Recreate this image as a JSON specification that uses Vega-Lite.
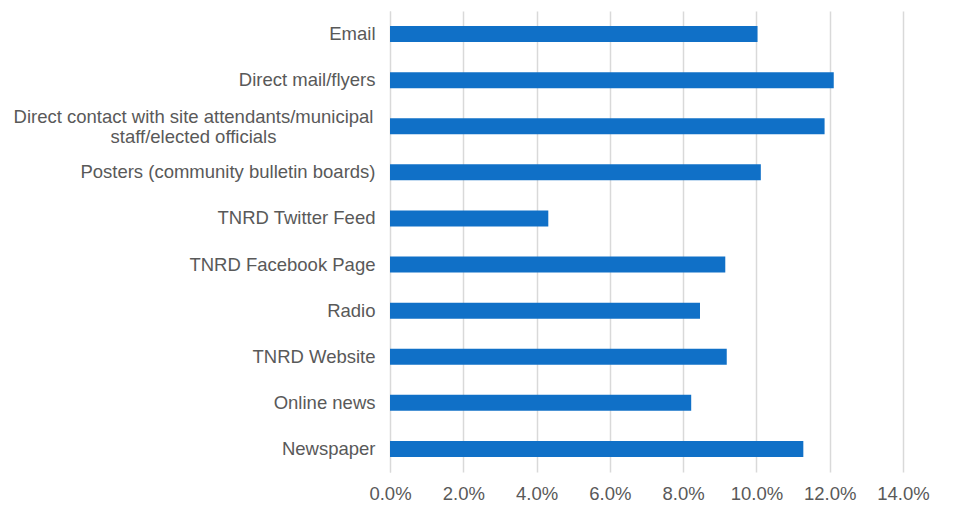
{
  "$schema": "https://vega.github.io/schema/vega-lite/v6.json",
  "autosize": {"type": "none"},
  "padding": {"left": 390, "top": 11, "right": 53, "bottom": 34},
  "width": 513,
  "height": 461,
  "background": "white",
  "data": {
    "values": [
      {"channel": "Email", "share": 0.1003},
      {"channel": "Direct mail/flyers", "share": 0.1211},
      {"channel": "Direct contact with site attendants/municipal staff/elected officials", "share": 0.1186},
      {"channel": "Posters (community bulletin boards)", "share": 0.1012},
      {"channel": "TNRD Twitter Feed", "share": 0.0432},
      {"channel": "TNRD Facebook Page", "share": 0.0915},
      {"channel": "Radio", "share": 0.0846},
      {"channel": "TNRD Website", "share": 0.0919},
      {"channel": "Online news", "share": 0.0822},
      {"channel": "Newspaper", "share": 0.1128}
    ]
  },
  "mark": {"type": "bar", "color": "#1070C7"},
  "encoding": {
    "y": {
      "field": "channel",
      "type": "nominal",
      "sort": null,
      "title": null,
      "scale": {"paddingInner": 0.653, "paddingOuter": 0.3265},
      "axis": {
        "ticks": false,
        "domain": true,
        "domainColor": "#d9d9d9",
        "grid": false,
        "labelFont": "Liberation Sans",
        "labelFontSize": 18.5,
        "labelColor": "#595959",
        "labelLimit": 400,
        "labelLineHeight": 20,
        "labelAlign": {"condition": {"test": "indexof(datum.value, 'Direct contact') == 0", "value": "center"}, "value": "right"},
        "labelPadding": {"condition": {"test": "indexof(datum.value, 'Direct contact') == 0", "value": 197}, "value": 15},
        "labelOffset": {"condition": {"test": "indexof(datum.value, 'Direct contact') == 0", "value": -9}, "value": 0},
        "labelExpr": "indexof(datum.value, 'Direct contact') == 0 ? ['Direct contact with site attendants/municipal', 'staff/elected officials'] : datum.value"
      }
    },
    "x": {
      "field": "share",
      "type": "quantitative",
      "title": null,
      "scale": {"domain": [0, 0.14]},
      "axis": {
        "format": ".1%",
        "values": [0, 0.02, 0.04, 0.06, 0.08, 0.1, 0.12, 0.14],
        "ticks": false,
        "domain": false,
        "grid": true,
        "gridColor": "#d9d9d9",
        "gridWidth": 1.5,
        "labelFont": "Liberation Sans",
        "labelFontSize": 18.5,
        "labelColor": "#595959",
        "labelPadding": 12,
        "labelFlush": false
      }
    }
  },
  "config": {"view": {"stroke": null}}
}
